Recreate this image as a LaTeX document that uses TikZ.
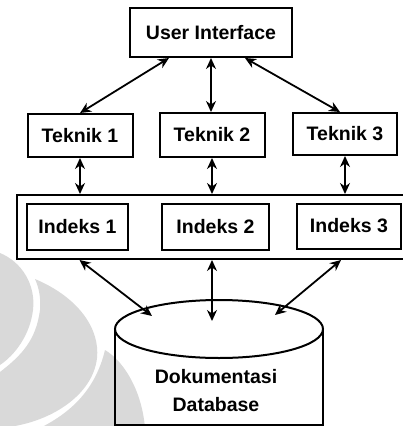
\documentclass[tikz,border=0pt]{standalone}
\usepackage{fontspec}
\setmainfont{Liberation Sans}
\usepackage{tikz}
\usetikzlibrary{positioning,arrows.meta}

\begin{document}
\begin{tikzpicture}[x=1pt, y=-1pt, >={Stealth[length=11pt,width=10pt]}]
      \tikzset{
	  box/.style={rectangle, draw=black, line width=2pt, inner sep=0pt, text centered, font=\fontsize{19.5}{22}\selectfont\bfseries},
	  link/.style={<->, line width=1.8pt},
	  wmark/.style={fill=black!15, draw=none}
      }
      \useasboundingbox (0,0) rectangle (402,426);

      \fill[wmark] (0,253) .. controls (22,262) and (36,285) .. (33,310) .. controls (30,335) and (15,355) .. (0,365) -- cycle;
      \fill[wmark] (35,279) .. controls (80,298) and (100,330) .. (97,358) .. controls (93,395) and (50,424) .. (0,428) -- (0,372) .. controls (22,355) and (36,340) .. (40,310) .. controls (41,298) and (39,288) .. (35,279) -- cycle;
      \fill[wmark] (105,350) .. controls (125,362) and (142,392) .. (145,428) -- (40,428) .. controls (68,414) and (95,392) .. (105,350) -- cycle;

      \node at (211,32.5) [box, minimum width=162pt, minimum height=49pt] (ui) {User Interface};
      \node at (80,135.5) [box, minimum width=105pt, minimum height=43pt] (t1) {Teknik 1};
      \node at (212,135) [box, minimum width=105pt, minimum height=44pt] (t2) {Teknik 2};
      \node at (345,134) [box, minimum width=104pt, minimum height=42pt] (t3) {Teknik 3};

      \node at (212,227) [box, minimum width=390pt, minimum height=64pt] (idx) {};
      \node at (77.5,227) [box, minimum width=101pt, minimum height=46pt] (i1) {Indeks 1};
      \node at (215.5,226.5) [box, minimum width=107pt, minimum height=46pt] (i2) {Indeks 2};
      \node at (349,226) [box, minimum width=104pt, minimum height=45pt] (i3) {Indeks 3};

      \draw[line width=2pt] (219,329) ellipse [x radius=104, y radius=29];
      \draw[line width=2pt] (115,329) -- (115,425) -- (323,425) -- (323,329);
      \node at (216,391) [align=center, font=\fontsize{19.5}{28}\selectfont\bfseries] (db) {Dokumentasi\\Database};
      \coordinate (dbL) at (152,316);
      \coordinate (dbM) at (212,321);
      \coordinate (dbR) at (275,315);

      \draw[link] ([xshift=-42pt]ui.south) -- (t1.north);
      \draw[link] (ui.south) -- (ui.south |- t2.north);
      \draw[link] ([xshift=34pt]ui.south) -- ([xshift=-5pt]t3.north);

      \draw[link] (t1.south) -- (t1.south |- idx.north);
      \draw[link] (t2.south) -- (t2.south |- idx.north);
      \draw[link] (t3.south) -- (t3.south |- idx.north);

      \draw[link] ([xshift=2pt]i1.south |- idx.south) -- (dbL);
      \draw[link] (idx.south -| dbM) -- (dbM);
      \draw[link] ([xshift=-4pt]t3.south |- idx.south) -- (dbR);
\end{tikzpicture}
\end{document}
